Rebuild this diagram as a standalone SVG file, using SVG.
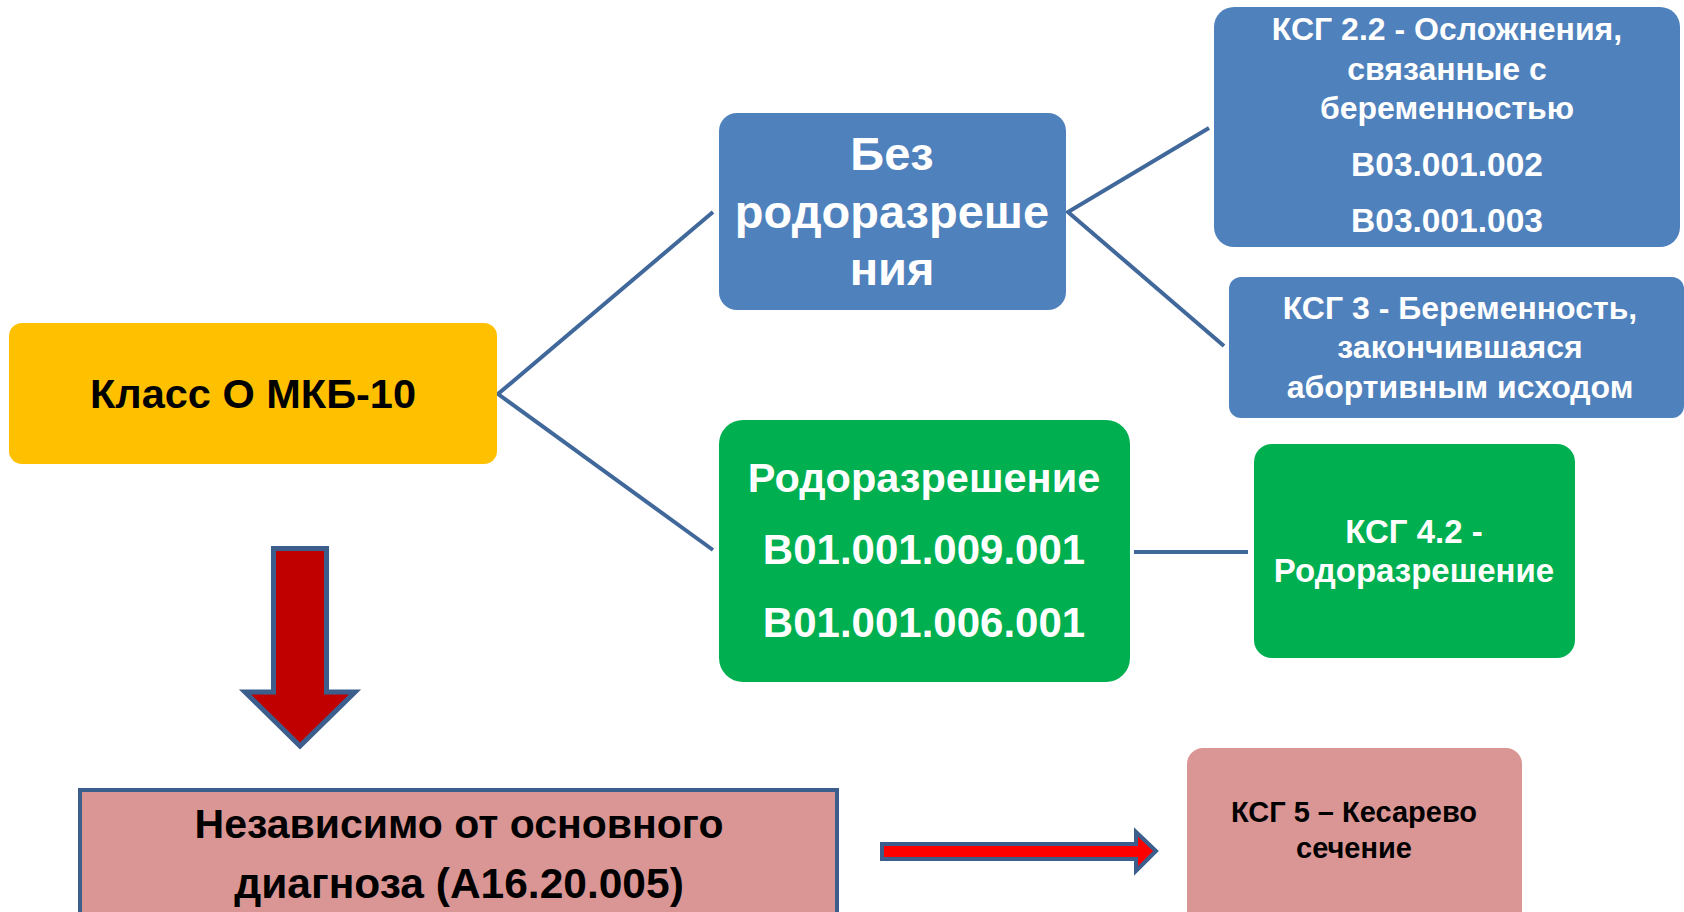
<svg xmlns="http://www.w3.org/2000/svg" width="1684" height="912" viewBox="0 0 1684 912">
<style>
text{font-family:"Liberation Sans",Arial,sans-serif;font-weight:bold;text-anchor:middle}
.w{fill:#ffffff}
.k{fill:#000000}
.blue{fill:#4F81BD}
.green{fill:#00B050}
.conn{stroke:#41689B;stroke-width:4;fill:none}
</style>
<rect width="1684" height="912" fill="#ffffff"/>
<g id="connectors">
<polyline class="conn" points="713,212 498,394 713,550"/>
<polyline class="conn" points="1209,128 1068,212 1224,346"/>
<line class="conn" x1="1134" y1="552" x2="1248" y2="552"/>
</g>
<g id="node-class">
<rect x="9" y="323" width="488" height="141" rx="13" fill="#FFC000"/>
<text class="k" x="253" y="408" font-size="41.5">Класс О МКБ-10</text>
</g>
<g id="node-bez">
<rect class="blue" x="719" y="113" width="347" height="197" rx="18"/>
<text class="w" x="892" y="170" font-size="47">Без</text>
<text class="w" x="892" y="228" font-size="47">родоразреше</text>
<text class="w" x="892" y="285" font-size="47">ния</text>
</g>
<g id="node-ksg22">
<rect class="blue" x="1214" y="7" width="466" height="240" rx="20"/>
<text class="w" x="1447" y="40" font-size="32">КСГ 2.2 - Осложнения,</text>
<text class="w" x="1447" y="80" font-size="32">связанные с</text>
<text class="w" x="1447" y="119" font-size="32">беременностью</text>
<text class="w" x="1447" y="176" font-size="33.5">B03.001.002</text>
<text class="w" x="1447" y="232" font-size="33.5">B03.001.003</text>
</g>
<g id="node-ksg3">
<rect class="blue" x="1229" y="277" width="455" height="141" rx="12"/>
<text class="w" x="1460" y="319" font-size="32">КСГ 3 - Беременность,</text>
<text class="w" x="1460" y="358" font-size="32">закончившаяся</text>
<text class="w" x="1460" y="398" font-size="32">абортивным исходом</text>
</g>
<g id="node-rodo">
<rect class="green" x="719" y="420" width="411" height="262" rx="24"/>
<text class="w" x="924" y="492" font-size="41.5">Родоразрешение</text>
<text class="w" x="924" y="564" font-size="42">B01.001.009.001</text>
<text class="w" x="924" y="637" font-size="42">B01.001.006.001</text>
</g>
<g id="node-ksg42">
<rect class="green" x="1254" y="444" width="321" height="214" rx="18"/>
<text class="w" x="1414" y="543" font-size="33">КСГ 4.2 -</text>
<text class="w" x="1414" y="582" font-size="33">Родоразрешение</text>
</g>
<g id="arrow-down">
<polygon points="273.5,548.5 326.5,548.5 326.5,692 355,692 300,746 245,692 273.5,692" fill="#C00000" stroke="#3B5E8C" stroke-width="5" stroke-linejoin="miter"/>
</g>
<g id="node-independent">
<rect x="80" y="790" width="757" height="130" fill="#D99694" stroke="#3B5E8C" stroke-width="4"/>
<text class="k" x="459" y="838" font-size="41">Независимо от основного</text>
<text class="k" x="459" y="898" font-size="42.5">диагноза (А16.20.005)</text>
</g>
<g id="arrow-right">
<polygon points="882,844 1136,844 1136,832 1156,851 1136,871 1136,859 882,859" fill="#FF0000" stroke="#3B5E8C" stroke-width="4"/>
</g>
<g id="node-ksg5">
<rect x="1187" y="748" width="335" height="190" rx="16" fill="#D99694"/>
<text class="k" x="1354" y="822" font-size="29">КСГ 5 – Кесарево</text>
<text class="k" x="1354" y="858" font-size="29">сечение</text>
</g>
</svg>
